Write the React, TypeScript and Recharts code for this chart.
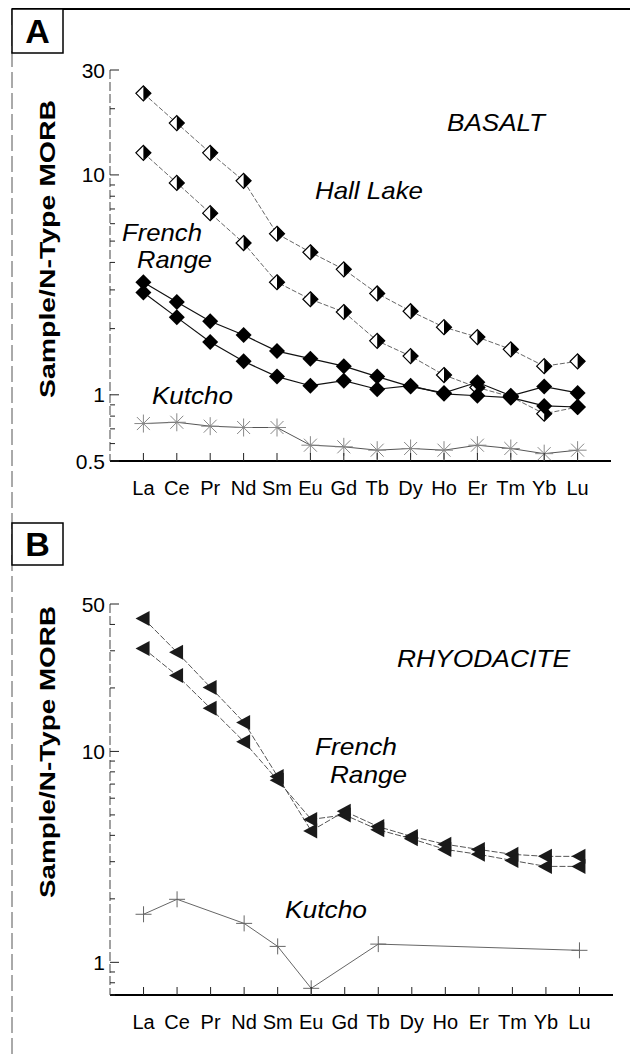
import { LineChart, Line, XAxis, YAxis } from "recharts";

const FONT = "'Liberation Sans', Arial, Helvetica, sans-serif";

// rare earth elements, in chondrite order
const REE = ["La", "Ce", "Pr", "Nd", "Sm", "Eu", "Gd", "Tb", "Dy", "Ho", "Er", "Tm", "Yb", "Lu"];
const X_POS = REE.map((_, i) => i + 1);

// panel A - basalt
const A_HALL_HIGH = [23.5, 17.2, 12.6, 9.4, 5.4, 4.45, 3.72, 2.89, 2.4, 2.03, 1.83, 1.61, 1.35, 1.42];
const A_HALL_LOW = [12.6, 9.2, 6.7, 4.9, 3.25, 2.72, 2.38, 1.76, 1.5, 1.23, 1.08, 0.98, 0.82, 0.88];
const A_FRENCH_HIGH = [3.25, 2.64, 2.16, 1.87, 1.58, 1.46, 1.35, 1.21, 1.09, 1.02, 1.14, 0.99, 1.09, 1.02];
const A_FRENCH_LOW = [2.92, 2.25, 1.74, 1.42, 1.21, 1.1, 1.16, 1.06, 1.1, 1.01, 0.99, 0.97, 0.89, 0.88];
const A_KUTCHO = [0.74, 0.75, 0.72, 0.71, 0.71, 0.59, 0.58, 0.56, 0.57, 0.56, 0.59, 0.57, 0.54, 0.56];

// panel B - rhyodacite
const B_FRENCH_HIGH = [42.7, 29.5, 20.1, 13.7, 7.6, 4.2, 5.2, 4.4, 3.95, 3.63, 3.43, 3.25, 3.18, 3.18];
const B_FRENCH_LOW = [30.8, 22.9, 16.0, 11.1, 7.3, 4.76, 5.0, 4.25, 3.85, 3.43, 3.25, 3.04, 2.85, 2.85];
const B_KUTCHO = [1.69, 1.99, null, 1.53, 1.19, 0.753, null, 1.22, null, null, null, null, null, 1.14];

const A_TICKS = [0.5, 0.6, 0.7, 0.8, 0.9, 1, 2, 3, 4, 5, 6, 7, 8, 9, 10, 20, 30];
const A_LABELS = [0.5, 1, 10, 30];
const B_TICKS = [0.7, 0.8, 0.9, 1, 2, 3, 4, 5, 6, 7, 8, 9, 10, 20, 30, 40, 50];
const B_LABELS = [1, 10, 50];

const dataA = X_POS.map((i, k) => ({
  i,
  hl1: A_HALL_HIGH[k],
  hl2: A_HALL_LOW[k],
  fr1: A_FRENCH_HIGH[k],
  fr2: A_FRENCH_LOW[k],
  ku: A_KUTCHO[k],
}));

const dataB = X_POS.map((i, k) => ({
  i,
  fr1: B_FRENCH_HIGH[k],
  fr2: B_FRENCH_LOW[k],
  ku: B_KUTCHO[k],
}));

const ok = (p: any) => p.cx != null && p.cy != null && !isNaN(p.cx) && !isNaN(p.cy);

const HalfDiamond = (p: any) => {
  if (!ok(p)) return <g key={p.index} />;
  const { cx, cy } = p;
  const r = 7.5;
  return (
    <g key={p.index}>
      <polygon
        points={`${cx},${cy - r} ${cx + r},${cy} ${cx},${cy + r} ${cx - r},${cy}`}
        fill="#fff"
        stroke="#000"
        strokeWidth={1.2}
      />
      <polygon points={`${cx},${cy - r} ${cx + r},${cy} ${cx},${cy + r}`} fill="#000" />
    </g>
  );
};

const Diamond = (p: any) => {
  if (!ok(p)) return <g key={p.index} />;
  const { cx, cy } = p;
  const r = 8;
  return (
    <polygon
      key={p.index}
      points={`${cx},${cy - r} ${cx + r},${cy} ${cx},${cy + r} ${cx - r},${cy}`}
      fill="#000"
    />
  );
};

const Star = (p: any) => {
  if (!ok(p)) return <g key={p.index} />;
  const { cx, cy } = p;
  const r = 9;
  const d = 6.5;
  return (
    <g key={p.index} stroke="#888" strokeWidth={1}>
      <line x1={cx - r} y1={cy} x2={cx + r} y2={cy} />
      <line x1={cx} y1={cy - r} x2={cx} y2={cy + r} />
      <line x1={cx - d} y1={cy - d} x2={cx + d} y2={cy + d} />
      <line x1={cx - d} y1={cy + d} x2={cx + d} y2={cy - d} />
    </g>
  );
};

const LeftTri = (p: any) => {
  if (!ok(p)) return <g key={p.index} />;
  const { cx, cy } = p;
  return (
    <polygon
      key={p.index}
      points={`${cx - 8},${cy} ${cx + 6},${cy - 7.5} ${cx + 6},${cy + 7.5}`}
      fill="#1a1a1a"
    />
  );
};

const Plus = (p: any) => {
  if (!ok(p)) return <g key={p.index} />;
  const { cx, cy } = p;
  return (
    <g key={p.index} stroke="#666" strokeWidth={1}>
      <line x1={cx - 8} y1={cy} x2={cx + 8} y2={cy} />
      <line x1={cx} y1={cy - 8} x2={cx} y2={cy + 8} />
    </g>
  );
};

function leftTick(labels: number[]) {
  return (p: any) => {
    const { x, y, payload } = p;
    const major = labels.includes(payload.value);
    return (
      <g key={payload.value}>
        <line x1={x} y1={y} x2={x + (major ? 9 : 5)} y2={y} stroke="#222" strokeWidth={1} />
        {major && (
          <text x={x - 5} y={y} dy="0.36em" textAnchor="end" fontSize={21} fontFamily={FONT} fill="#000">
            {payload.value}
          </text>
        )}
      </g>
    );
  };
}

function rightTick(labels: number[]) {
  return (p: any) => {
    const { x, y, payload } = p;
    const major = labels.includes(payload.value);
    return <line key={payload.value} x1={x} y1={y} x2={x - (major ? 9 : 5)} y2={y} stroke="#222" strokeWidth={1} />;
  };
}

const BottomTick = (p: any) => {
  const { x, y, payload } = p;
  return (
    <g key={payload.value}>
      <line x1={x} y1={y} x2={x} y2={y - 8} stroke="#222" strokeWidth={1} />
      <text x={x} y={y + 34} textAnchor="middle" fontSize={20} fontFamily={FONT} fill="#000">
        {REE[payload.value - 1]}
      </text>
    </g>
  );
};

const TopTick = (p: any) => {
  const { x, y, payload } = p;
  return <line key={payload.value} x1={x} y1={y} x2={x} y2={y + 8} stroke="#222" strokeWidth={1} />;
};

const edgeSolid = { stroke: "#000", strokeWidth: 1.8 };
const edgeDashed = { stroke: "#444", strokeWidth: 1, strokeDasharray: "9 3" };

function Panel({ data, height, margin, domain, ticks, labels, children }: any) {
  return (
    <LineChart width={630} height={height} data={data} margin={margin}>
      <XAxis
        xAxisId="bottom"
        dataKey="i"
        type="number"
        domain={[0, 15]}
        ticks={X_POS}
        interval={0}
        height={40}
        tickSize={0}
        tickMargin={0}
        tickLine={false}
        axisLine={edgeSolid}
        tick={BottomTick}
      />
      <XAxis
        xAxisId="top"
        orientation="top"
        dataKey="i"
        type="number"
        domain={[0, 15]}
        ticks={X_POS}
        interval={0}
        height={0}
        tickSize={0}
        tickMargin={0}
        tickLine={false}
        axisLine={edgeSolid}
        tick={TopTick}
      />
      <YAxis
        yAxisId="left"
        type="number"
        scale="log"
        domain={domain}
        allowDataOverflow
        ticks={ticks}
        interval={0}
        width={110}
        tickSize={0}
        tickMargin={0}
        tickLine={false}
        axisLine={edgeDashed}
        tick={leftTick(labels)}
      />
      <YAxis
        yAxisId="right"
        orientation="right"
        type="number"
        scale="log"
        domain={domain}
        allowDataOverflow
        ticks={ticks}
        interval={0}
        width={0}
        tickSize={0}
        tickMargin={0}
        tickLine={false}
        axisLine={edgeDashed}
        tick={rightTick(labels)}
      />
      {children}
    </LineChart>
  );
}

const italic = { fontFamily: FONT, fontStyle: "italic" as const, fontSize: 24, fill: "#000" };

export default function App() {
  return (
    <div
      style={{
        position: "absolute",
        left: 0,
        top: 0,
        width: 630,
        height: 1055,
        overflow: "hidden",
        background: "#fff",
      }}
    >
      <div style={{ position: "absolute", left: 0, top: 0 }}>
        <Panel
          data={dataA}
          height={520}
          margin={{ top: 70, right: 19, bottom: 19, left: 0 }}
          domain={[0.5, 30]}
          ticks={A_TICKS}
          labels={A_LABELS}
        >
          <Line xAxisId="bottom" yAxisId="left" dataKey="ku" stroke="#555" strokeWidth={1} dot={Star} activeDot={false} isAnimationActive={false} />
          <Line xAxisId="bottom" yAxisId="left" dataKey="hl1" stroke="#666" strokeWidth={1} strokeDasharray="5 2" dot={HalfDiamond} activeDot={false} isAnimationActive={false} />
          <Line xAxisId="bottom" yAxisId="left" dataKey="hl2" stroke="#666" strokeWidth={1} strokeDasharray="5 2" dot={HalfDiamond} activeDot={false} isAnimationActive={false} />
          <Line xAxisId="bottom" yAxisId="left" dataKey="fr1" stroke="#111" strokeWidth={1.2} dot={Diamond} activeDot={false} isAnimationActive={false} />
          <Line xAxisId="bottom" yAxisId="left" dataKey="fr2" stroke="#111" strokeWidth={1.2} dot={Diamond} activeDot={false} isAnimationActive={false} />
        </Panel>
      </div>
      <div style={{ position: "absolute", left: 0, top: 520 }}>
        <Panel
          data={dataB}
          height={535}
          margin={{ top: 84, right: 17, bottom: 20, left: 0 }}
          domain={[0.7, 50]}
          ticks={B_TICKS}
          labels={B_LABELS}
        >
          <Line xAxisId="bottom" yAxisId="left" dataKey="ku" stroke="#666" strokeWidth={1} connectNulls dot={Plus} activeDot={false} isAnimationActive={false} />
          <Line xAxisId="bottom" yAxisId="left" dataKey="fr1" stroke="#555" strokeWidth={1} strokeDasharray="6 2" dot={LeftTri} activeDot={false} isAnimationActive={false} />
          <Line xAxisId="bottom" yAxisId="left" dataKey="fr2" stroke="#555" strokeWidth={1} strokeDasharray="6 2" dot={LeftTri} activeDot={false} isAnimationActive={false} />
        </Panel>
      </div>

      {/* frame, panel letters, axis titles and in-plot labels */}
      <svg
        width={630}
        height={1055}
        style={{ position: "absolute", left: 0, top: 0, pointerEvents: "none" }}
      >
        <line x1={12} y1={9} x2={630} y2={9} stroke="#000" strokeWidth={2} />
        <line x1={12} y1={9} x2={12} y2={1055} stroke="#555" strokeWidth={1} strokeDasharray="16 5" />

        <rect x={12} y={9} width={51} height={44} fill="#fff" stroke="#000" strokeWidth={1.5} />
        <text x={37.5} y={43} textAnchor="middle" fontFamily={FONT} fontWeight="bold" fontSize={34}>
          A
        </text>
        <rect x={12} y={523} width={51} height={42} fill="#fff" stroke="#000" strokeWidth={1.5} />
        <text x={37.5} y={556} textAnchor="middle" fontFamily={FONT} fontWeight="bold" fontSize={34}>
          B
        </text>

        <text
          x={47}
          y={249}
          transform="rotate(-90 47 249)"
          textAnchor="middle"
          dominantBaseline="central"
          fontFamily={FONT}
          fontWeight="bold"
          fontSize={22}
          textLength={298}
          lengthAdjust="spacingAndGlyphs"
        >
          Sample/N-Type MORB
        </text>
        <text
          x={47}
          y={752}
          transform="rotate(-90 47 752)"
          textAnchor="middle"
          dominantBaseline="central"
          fontFamily={FONT}
          fontWeight="bold"
          fontSize={22}
          textLength={292}
          lengthAdjust="spacingAndGlyphs"
        >
          Sample/N-Type MORB
        </text>

        <text x={447} y={131} {...italic} textLength={98} lengthAdjust="spacingAndGlyphs">BASALT</text>
        <text x={315} y={199} {...italic} textLength={108} lengthAdjust="spacingAndGlyphs">Hall Lake</text>
        <text x={122} y={241} {...italic} textLength={80} lengthAdjust="spacingAndGlyphs">French</text>
        <text x={137} y={268} {...italic} textLength={75} lengthAdjust="spacingAndGlyphs">Range</text>
        <text x={152} y={404} {...italic} textLength={81} lengthAdjust="spacingAndGlyphs">Kutcho</text>

        <text x={397} y={667} {...italic} textLength={173} lengthAdjust="spacingAndGlyphs">RHYODACITE</text>
        <text x={315} y={755} {...italic} textLength={82} lengthAdjust="spacingAndGlyphs">French</text>
        <text x={330} y={783} {...italic} textLength={77} lengthAdjust="spacingAndGlyphs">Range</text>
        <text x={285} y={918} {...italic} textLength={82} lengthAdjust="spacingAndGlyphs">Kutcho</text>
      </svg>
    </div>
  );
}
